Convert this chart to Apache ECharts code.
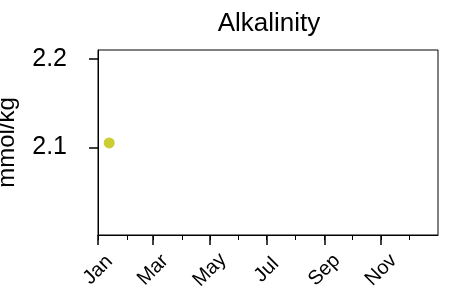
<!DOCTYPE html>
<html>
<head>
<meta charset="utf-8">
<script src="https://cdn.jsdelivr.net/npm/echarts@6/dist/echarts.min.js"></script>
<style>
  html, body { margin: 0; padding: 0; background: #fff; }
  #chart { width: 450px; height: 296px; }
</style>
</head>
<body>
<div id="chart"></div>
<script>
const monthNames = ['Jan', 'Feb', 'Mar', 'Apr', 'May', 'Jun', 'Jul', 'Aug', 'Sep', 'Oct', 'Nov', 'Dec']
const labelMonths = [0, 2, 4, 6, 8, 10]
const sampleDates = ['2021-01-13']
const alkalinity = [2.105]
const yTicks = [2.1, 2.2]

const year = 2021
const monthStarts = monthNames.map((m, i) => Date.UTC(year, i, 1))
const majorStarts = labelMonths.map(i => Date.UTC(year, i, 1))
const font = 'Liberation Sans'

let chart = echarts.init(document.getElementById('chart'))

// value axis holding timestamps, so ticks can sit on month starts
let xCommon = {
    type: 'value',
    min: Date.UTC(year, 0, 1),
    max: Date.UTC(year + 1, 0, 1),
    splitLine: { show: false },
    axisPointer: { show: false }
}

chart.setOption({
    animation: false,
    textStyle: { fontFamily: font },
    title: {
        text: 'Alkalinity',
        left: 264,
        textAlign: 'center',
        top: 6,
        textStyle: { fontFamily: font, fontSize: 26, fontWeight: 'normal', color: '#000' }
    },
    grid: {
        left: 98, right: 12, top: 50, bottom: 61,
        outerBoundsMode: 'none',
        containLabel: false,
        show: true, borderColor: '#000', borderWidth: 1
    },
    xAxis: [
        Object.assign({}, xCommon, {
            axisLine: { show: true, lineStyle: { color: '#000', width: 1 } },
            axisTick: { show: true, length: 10, customValues: majorStarts, lineStyle: { color: '#000', width: 1.5 } },
            axisLabel: {
                customValues: majorStarts,
                rotate: 45,
                align: 'center',
                verticalAlign: 'middle',
                margin: 35,
                fontFamily: font,
                fontSize: 20,
                color: '#000',
                formatter: v => monthNames[new Date(v).getUTCMonth()]
            }
        }),
        Object.assign({}, xCommon, {
            position: 'bottom',
            axisLine: { show: false },
            axisTick: { show: true, length: 5, customValues: monthStarts, lineStyle: { color: '#000', width: 1 } },
            axisLabel: { show: false }
        })
    ],
    yAxis: {
        type: 'value',
        min: 2.0005,
        max: 2.2105,
        name: 'mmol/kg',
        nameLocation: 'middle',
        nameGap: 79,
        nameTextStyle: { fontFamily: font, fontSize: 24, color: '#000' },
        splitLine: { show: false },
        axisLine: { show: true, lineStyle: { color: '#000', width: 1 } },
        axisTick: { show: true, length: 9, customValues: yTicks, lineStyle: { color: '#000', width: 1.5 } },
        axisLabel: {
            customValues: yTicks,
            margin: 31,
            fontFamily: font,
            fontSize: 25,
            color: '#000',
            formatter: v => v.toFixed(1)
        }
    },
    series: [{
        type: 'scatter',
        xAxisIndex: 0,
        symbolSize: 11,
        itemStyle: { color: '#bfbf00' },
        data: sampleDates.map((d, i) => [Date.parse(d), alkalinity[i]])
    }]
})
</script>
</body>
</html>
